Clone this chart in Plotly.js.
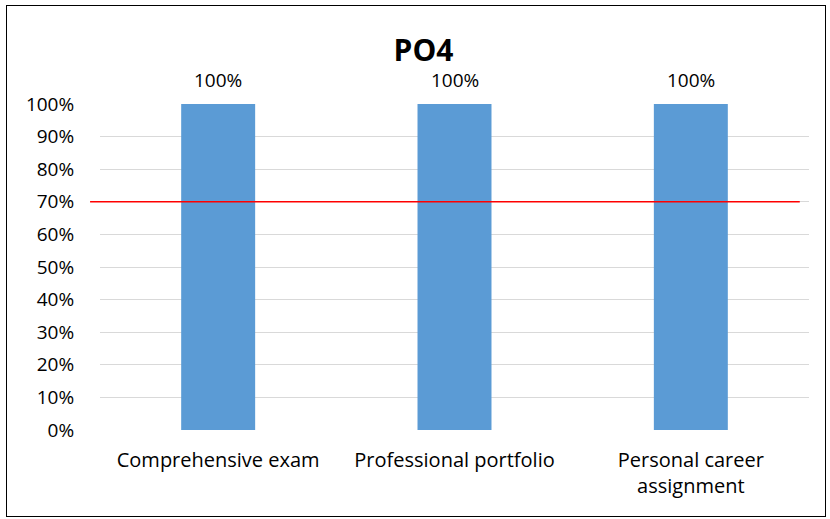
<!DOCTYPE html>
<html>
<head>
<meta charset="utf-8">
<script src="https://cdn.plot.ly/plotly-3.0.1.min.js"></script>
<style>
  html, body { margin: 0; padding: 0; background: #fff; }
  #wrap { position: relative; width: 830px; height: 519px; }
  #chart { position: absolute; left: 0; top: 0; width: 830px; height: 519px; }
  #frame { position: absolute; left: 6px; top: 5px; width: 818px; height: 510px; border: 1.5px solid #000; pointer-events: none; }
</style>
</head>
<body>
<div id="wrap"><div id="chart"></div><div id="frame"></div></div>
<script>
const chartTitle = "PO4";
const categories = ["Comprehensive exam", "Professional portfolio", "Personal career<br>assignment"];
const values = [1.0, 1.0, 1.0];
const valueLabels = ["100%", "100%", "100%"];
const targetLevel = [0.7];
const yTickVals = [0, 0.1, 0.2, 0.3, 0.4, 0.5, 0.6, 0.7, 0.8, 0.9, 1.0];
const yTickText = ["0%", "10%", "20%", "30%", "40%", "50%", "60%", "70%", "80%", "90%", "100%"];

const font = "'Open Sans', sans-serif";

const traces = [{
  type: "bar",
  x: categories,
  y: values,
  marker: { color: "#5B9BD5" },
  hoverinfo: "none"
}];

const annotations = categories.map((c, i) => ({
  x: c, y: values[i], xref: "x", yref: "y",
  text: valueLabels[i], showarrow: false,
  yanchor: "bottom", yshift: 9,
  font: { family: font, size: 19, color: "#000" }
}));

const shapes = targetLevel.map(v => ({
  type: "line", xref: "paper", yref: "y",
  x0: -0.014, x1: 0.987, y0: v, y1: v,
  line: { color: "#FF0000", width: 1.5 }
}));

const layout = {
  width: 830, height: 519,
  margin: { l: 100, r: 21, t: 104, b: 89 },
  paper_bgcolor: "#fff", plot_bgcolor: "#fff",
  showlegend: false,
  bargap: 0.687,
  title: {
    text: "<b>" + chartTitle + "</b>",
    x: 423.5 / 830, xref: "container", xanchor: "center",
    y: 1 - 50 / 519, yref: "container", yanchor: "middle",
    font: { family: font, size: 30, color: "#000" }
  },
  xaxis: {
    type: "category",
    tickfont: { family: font, size: 20, color: "#000" },
    ticks: "outside", ticklen: 12, tickcolor: "rgba(0,0,0,0)",
    showgrid: false, showline: false, zeroline: false,
    fixedrange: true
  },
  yaxis: {
    range: [0, 1],
    tickvals: yTickVals, ticktext: yTickText,
    tickfont: { family: font, size: 19, color: "#000" },
    ticks: "outside", ticklen: 21, tickcolor: "rgba(0,0,0,0)",
    showgrid: true, gridcolor: "#D9D9D9", gridwidth: 1,
    zeroline: false, showline: false,
    fixedrange: true
  },
  annotations: annotations,
  shapes: shapes
};

Plotly.newPlot("chart", traces, layout, { displayModeBar: false, staticPlot: true });
</script>
</body>
</html>
